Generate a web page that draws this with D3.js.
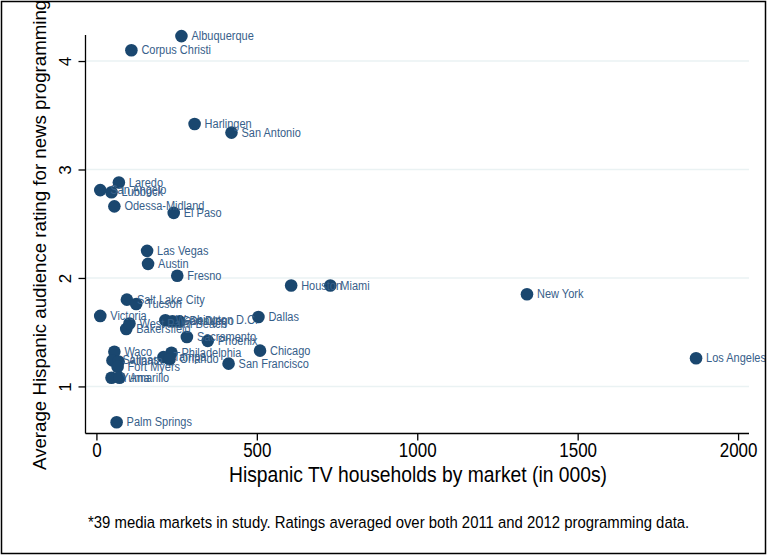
<!DOCTYPE html>
<html>
<head>
<meta charset="utf-8">
<script src="https://cdn.jsdelivr.net/npm/d3@7"></script>
<style>
body { margin: 0; background: #fff; }
svg { display: block; font-family: "Liberation Sans", Arial, sans-serif; }
</style>
</head>
<body>
<script>
var w = 767;
var h = 556;

var markets = ["Albuquerque", "Corpus Christi", "Harlingen", "San Antonio", "Laredo",
	"San Angelo", "Lubbock", "Odessa-Midland", "El Paso", "Las Vegas", "Austin", "Fresno",
	"Houston", "Miami", "New York", "Salt Lake City", "Tucson", "Victoria", "Dallas",
	"Bakersfield", "West Palm Beach", "Washington D.C.", "San Diego", "Denver",
	"Sacramento", "Phoenix", "Chicago", "San Francisco", "Los Angeles", "Waco",
	"Philadelphia", "Tampa", "Orlando", "Salinas", "Atlanta", "Fort Myers", "Yuma",
	"Amarillo", "Palm Springs"];

var households = [265, 109, 306, 421, 70,
	12, 47, 56, 241, 158, 161, 252,
	607, 729, 1342, 95, 124, 12, 505,
	93, 103, 215, 237, 259,
	282, 347, 510, 412, 1869, 56,
	234, 209, 228, 50, 69, 66, 47,
	72, 63];

var ratings = [4.23, 4.10, 3.42, 3.34, 2.88,
	2.81, 2.79, 2.66, 2.60, 2.25, 2.13, 2.02,
	1.93, 1.93, 1.85, 1.80, 1.76, 1.65, 1.64,
	1.53, 1.58, 1.61, 1.60, 1.60,
	1.455, 1.42, 1.33, 1.21, 1.26, 1.32,
	1.31, 1.27, 1.25, 1.24, 1.23, 1.18, 1.08,
	1.08, 0.67];

var xTicks = [0, 500, 1000, 1500, 2000];
var yTicks = [1, 2, 3, 4];

var xTitle = "Hispanic TV households by market (in 000s)";
var yTitle = "Average Hispanic audience rating for news programming";
var note = "*39 media markets in study. Ratings averaged over both 2011 and 2012 programming data.";

var navy = "#1a476f";
var stretch = 1.15;

var xScale = d3.scaleLinear()
				.domain([-34, 2034])
				.range([85.5, 749]);

var yScale = d3.scaleLinear()
				.domain([0.566, 4.24])
				.range([433.5, 35]);

var svg = d3.select("body")
			.append("svg")
			.attr("width", w)
			.attr("height", h);

svg.append("rect")
	.attr("width", w)
	.attr("height", h)
	.attr("fill", "#fff");

// gridlines
svg.selectAll("line.grid")
	.data(yTicks)
	.enter()
	.append("line")
	.attr("class", "grid")
	.attr("x1", xScale.range()[0])
	.attr("x2", xScale.range()[1])
	.attr("y1", function(d) { return yScale(d); })
	.attr("y2", function(d) { return yScale(d); })
	.attr("stroke", "#eaf2f3")
	.attr("stroke-width", 1.5);

// axes
var xAxis = d3.axisBottom(xScale)
				.tickValues(xTicks)
				.tickFormat(d3.format("d"))
				.tickSize(7);

var gx = svg.append("g")
			.attr("transform", "translate(0," + yScale.range()[0] + ")")
			.call(xAxis);

gx.select(".domain")
	.attr("d", "M" + xScale.range()[0] + ",0H" + xScale.range()[1]);

gx.selectAll("text")
	.attr("font-size", 17)
	.attr("font-family", "Liberation Sans, Arial, sans-serif")
	.attr("fill", "#000")
	.attr("dy", null)
	.attr("y", 0)
	.attr("transform", "translate(0,23.5) scale(1," + stretch + ")");

var yAxis = d3.axisLeft(yScale)
				.tickValues(yTicks)
				.tickFormat(d3.format("d"))
				.tickSize(7);

var gy = svg.append("g")
			.attr("transform", "translate(" + xScale.range()[0] + ",0)")
			.call(yAxis);

gy.select(".domain")
	.attr("d", "M0," + yScale.range()[0] + "V" + yScale.range()[1]);

gy.selectAll(".tick text")
	.attr("font-size", 17)
	.attr("font-family", "Liberation Sans, Arial, sans-serif")
	.attr("fill", "#000")
	.attr("x", null)
	.attr("dy", null)
	.attr("text-anchor", "middle")
	.attr("transform", "translate(-15,0) rotate(-90)");

svg.selectAll(".domain, .tick line")
	.attr("stroke", "#000")
	.attr("stroke-width", 1.3);

// points
var points = svg.selectAll("circle.pt")
				.data(markets)
				.enter();

points.append("circle")
	.attr("class", "pt")
	.attr("cx", function(d, i) { return xScale(households[i]); })
	.attr("cy", function(d, i) { return yScale(ratings[i]); })
	.attr("r", 6.3)
	.attr("fill", navy);

points.append("text")
	.attr("transform", function(d, i) {
		return "translate(" + (xScale(households[i]) + 10) + "," + (yScale(ratings[i]) + 4) + ") scale(1," + stretch + ")";
	})
	.attr("font-size", 11)
	.attr("fill", "#37608a")
	.text(function(d) { return d; });

// titles
svg.append("text")
	.attr("transform", "translate(418,482) scale(1," + stretch + ")")
	.attr("text-anchor", "middle")
	.attr("font-size", 19.3)
	.attr("fill", "#000")
	.text(xTitle);

svg.append("text")
	.attr("transform", "translate(46,470) rotate(-90)")
	.attr("text-anchor", "start")
	.attr("font-size", 18.7)
	.attr("fill", "#000")
	.text(yTitle);

svg.append("text")
	.attr("transform", "translate(88,528) scale(1," + stretch + ")")
	.attr("font-size", 14.9)
	.attr("fill", "#000")
	.text(note);

// outer frame
svg.append("rect")
	.attr("x", 1.5)
	.attr("y", 1.5)
	.attr("width", w - 3)
	.attr("height", 552)
	.attr("fill", "none")
	.attr("stroke", "#000")
	.attr("stroke-width", 1.5);
</script>
</body>
</html>
